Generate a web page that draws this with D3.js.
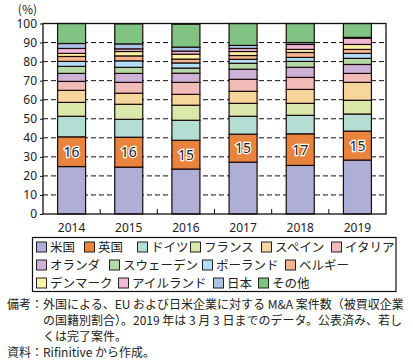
<!DOCTYPE html>
<html>
<head>
<meta charset="utf-8">
<script src="https://cdn.jsdelivr.net/npm/d3@7"></script>
<style>
  body { margin: 0; background: #fff; }
  svg { display: block; font-family: "Noto Sans CJK JP", "Noto Sans", sans-serif; }
</style>
</head>
<body>
<div id="chart"></div>
<script>
// Years on the x axis
const years = ["2014", "2015", "2016", "2017", "2018", "2019"];

// Countries, bottom to top
const countries = ["米国", "英国", "ドイツ", "フランス", "スペイン", "イタリア",
  "オランダ", "スウェーデン", "ポーランド", "ベルギー", "デンマーク", "アイルランド", "日本", "その他"];

const colors = ["#afaed6", "#e9843f", "#b4ddd4", "#dae8a9", "#f7d69c", "#f1bcb8",
  "#cdb1d7", "#b6d9a7", "#b3dff6", "#f3b68e", "#fdf3a8", "#f1b8d4", "#abc3e7", "#81c383"];

// Shares (%) per country, one value per year
const usa      = [24.9, 24.6, 23.6, 27.2, 25.5, 28.3];
const uk       = [15.6, 15.7, 15.1, 14.7, 16.6, 15.2];
const germany  = [10.8,  9.4, 10.5,  9.4,  9.7,  9.0];
const france   = [ 7.3,  7.9,  7.9,  6.8,  6.3,  7.2];
const spain    = [ 6.3,  5.8,  5.7,  6.3,  7.3,  9.4];
const italy    = [ 4.7,  5.7,  6.3,  6.3,  6.3,  4.7];
const nether   = [ 4.2,  4.7,  4.8,  5.3,  5.3,  4.7];
const sweden   = [ 3.7,  3.2,  2.7,  3.1,  3.1,  3.2];
const poland   = [ 2.6,  3.4,  2.7,  2.1,  2.1,  2.6];
const belgium  = [ 2.6,  2.6,  2.0,  2.0,  2.6,  2.1];
const denmark  = [ 1.6,  2.3,  2.6,  2.1,  1.6,  2.6];
const ireland  = [ 2.6,  1.4,  1.6,  1.6,  2.6,  3.3];
const japan    = [ 2.6,  2.6,  2.1,  1.6,  1.0,  0.4];
const others   = [10.5, 10.5, 12.0, 11.5, 10.0,  7.3];

const series = [usa, uk, germany, france, spain, italy, nether, sweden,
  poland, belgium, denmark, ireland, japan, others];

const yTicks = [0, 10, 20, 30, 40, 50, 60, 70, 80, 90, 100];

const notes = [
  "外国による、EU および日米企業に対する M&A 案件数（被買収企業",
  "の国籍別割合）。2019 年は 3 月 3 日までのデータ。公表済み、若し",
  "くは完了案件。"
];
const source = "Rifinitive から作成。";

// table for d3.stack
const table = years.map((yr, i) => {
  const row = { year: yr };
  countries.forEach((c, j) => { row[c] = series[j][i]; });
  return row;
});

const W = 413, H = 361;
const margin = { top: 23.5, right: 27, bottom: 147, left: 43 };
const width = W - margin.left - margin.right;
const height = H - margin.top - margin.bottom;

const svg = d3.select("#chart").append("svg")
  .attr("width", W).attr("height", H);

const g = svg.append("g")
  .attr("transform", `translate(${margin.left},${margin.top})`);

const x = d3.scaleBand().domain(years).range([0, width]).paddingInner(0.51).paddingOuter(0.255);
const y = d3.scaleLinear().domain([0, 100]).range([height, 0]);

// dashed grid lines
g.append("g")
  .selectAll("line")
  .data(yTicks.filter(d => d > 0 && d < 100))
  .join("line")
  .attr("x1", 0).attr("x2", width)
  .attr("y1", d => y(d)).attr("y2", d => y(d))
  .attr("stroke", "#111").attr("stroke-width", 1)
  .attr("stroke-dasharray", "5,3");

// stacked bars
const stacked = d3.stack().keys(countries)(table);
const color = d3.scaleOrdinal().domain(countries).range(colors);

g.append("g")
  .selectAll("g")
  .data(stacked)
  .join("g")
  .attr("fill", d => color(d.key))
  .selectAll("rect")
  .data(d => d)
  .join("rect")
  .attr("x", d => x(d.data.year))
  .attr("y", d => y(d[1]))
  .attr("width", x.bandwidth())
  .attr("height", d => y(d[0]) - y(d[1]))
  .attr("stroke", "#1a0a0a").attr("stroke-width", 1.2);

// UK value labels
const ukLayer = stacked[1];
g.append("g")
  .selectAll("text")
  .data(ukLayer)
  .join("text")
  .attr("x", d => x(d.data.year) + x.bandwidth() / 2)
  .attr("y", d => y((d[0] + d[1]) / 2))
  .attr("dy", "0.36em")
  .attr("text-anchor", "middle")
  .attr("font-size", 14)
  .attr("font-family", "'Noto Sans', sans-serif")
  .attr("fill", "#222")
  .attr("stroke", "#fff").attr("stroke-width", 2.5)
  .attr("paint-order", "stroke")
  .text(d => d3.format(".0f")(d[1] - d[0]));

// frame
g.append("rect")
  .attr("x", 0).attr("y", 0).attr("width", width).attr("height", height)
  .attr("fill", "none").attr("stroke", "#111").attr("stroke-width", 1.3);

// y axis
const yAxis = g.append("g")
  .call(d3.axisLeft(y).tickValues(yTicks).tickSize(3).tickPadding(3));
yAxis.select(".domain").remove();
yAxis.selectAll("text")
  .attr("font-size", 12)
  .attr("font-family", "'Noto Sans', sans-serif")
  .attr("fill", "#222");
yAxis.selectAll("line").attr("stroke", "#111");

g.append("text")
  .attr("x", -6).attr("y", -10)
  .attr("text-anchor", "end")
  .attr("font-size", 12)
  .attr("fill", "#222")
  .text("(%)");

// x axis: inward ticks at category boundaries
const xAxis = g.append("g")
  .attr("transform", `translate(0,${height})`)
  .call(d3.axisBottom(x).tickSize(0).tickPadding(9));
xAxis.select(".domain").remove();
xAxis.selectAll("text")
  .attr("font-size", 12)
  .attr("font-family", "'Noto Sans', sans-serif")
  .attr("fill", "#222");

g.append("g")
  .selectAll("line")
  .data(years.slice(1))
  .join("line")
  .attr("x1", d => x(d) - x.step() * x.paddingInner() / 2)
  .attr("x2", d => x(d) - x.step() * x.paddingInner() / 2)
  .attr("y1", height).attr("y2", height - 5)
  .attr("stroke", "#111").attr("stroke-width", 1);

// legend
const legendRows = [[0, 1, 2, 3, 4, 5], [6, 7, 8, 9], [10, 11, 12, 13]];
const legendCols = [[36, 84, 137, 190, 261, 331], [36, 109, 202, 285], [36, 118, 213, 258]];

svg.append("rect")
  .attr("x", 32.5).attr("y", 237.5).attr("width", 363.5).attr("height", 54)
  .attr("fill", "none").attr("stroke", "#111").attr("stroke-width", 1.2);

legendRows.forEach((row, r) => {
  row.forEach((k, c) => {
    const lg = svg.append("g")
      .attr("transform", `translate(${legendCols[r][c]},${247 + r * 18})`);
    lg.append("rect")
      .attr("x", 0.5).attr("y", -5).attr("width", 10).attr("height", 10)
      .attr("fill", colors[k]).attr("stroke", "#222").attr("stroke-width", 1);
    lg.append("text")
      .attr("x", 14).attr("y", 0).attr("dy", "0.36em")
      .attr("font-size", 12.5).attr("fill", "#222")
      .text(countries[k]);
  });
});

// notes
const notesG = svg.append("g").attr("font-size", 12).attr("fill", "#222");
notesG.append("text").attr("x", 7).attr("y", 309).text("備考：");
notes.forEach((t, i) => {
  notesG.append("text").attr("x", 43).attr("y", 309 + i * 16).text(t);
});
notesG.append("text").attr("x", 7).attr("y", 357).text("資料：");
notesG.append("text").attr("x", 43).attr("y", 357).text(source);
</script>
</body>
</html>
